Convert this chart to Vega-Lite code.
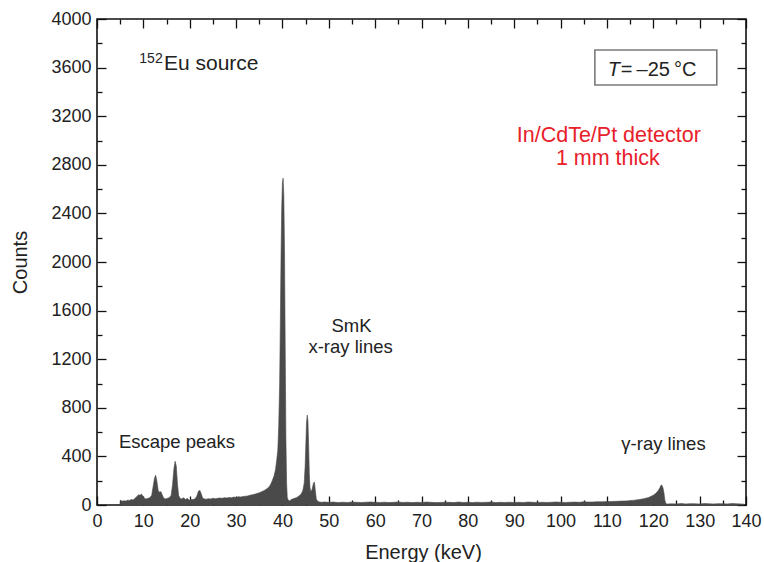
{
  "$schema": "https://vega.github.io/schema/vega-lite/v6.json",
  "width": 649,
  "height": 486,
  "autosize": "none",
  "padding": {"left": 97, "top": 19, "right": 18, "bottom": 57},
  "background": "white",
  "config": {
    "view": {"stroke": "#111", "strokeWidth": 1.6},
    "axis": {
      "domain": false, "grid": false, "tickColor": "#111", "tickWidth": 1.3,
      "labelFont": "Liberation Sans", "labelFontSize": 18, "labelColor": "#222",
      "labelFlush": false, "labelOverlap": false, "format": "d",
      "titleFont": "Liberation Sans", "titleFontSize": 20, "titleFontWeight": "normal", "titleColor": "#222"
    },
    "text": {"font": "Liberation Sans", "color": "#222"}
  },
  "datasets": {
    "spec": [
      {"e": 5.0, "c": 0}, {"e": 5.1, "c": 40}, {"e": 5.4, "c": 30}, {"e": 5.8, "c": 35}, {"e": 6.2, "c": 32},
      {"e": 6.6, "c": 40}, {"e": 7.0, "c": 38}, {"e": 7.4, "c": 45}, {"e": 7.8, "c": 42}, {"e": 8.2, "c": 55},
      {"e": 8.6, "c": 70}, {"e": 9.0, "c": 85}, {"e": 9.3, "c": 80}, {"e": 9.6, "c": 90}, {"e": 9.9, "c": 75},
      {"e": 10.2, "c": 55}, {"e": 10.6, "c": 50}, {"e": 11.0, "c": 55}, {"e": 11.4, "c": 60}, {"e": 11.8, "c": 80},
      {"e": 12.1, "c": 150}, {"e": 12.4, "c": 220}, {"e": 12.65, "c": 245}, {"e": 12.9, "c": 200}, {"e": 13.2, "c": 120},
      {"e": 13.5, "c": 105}, {"e": 13.8, "c": 110}, {"e": 14.1, "c": 80}, {"e": 14.4, "c": 55}, {"e": 14.8, "c": 50},
      {"e": 15.2, "c": 55}, {"e": 15.6, "c": 60}, {"e": 16.0, "c": 80}, {"e": 16.3, "c": 170}, {"e": 16.6, "c": 300},
      {"e": 16.85, "c": 360}, {"e": 17.1, "c": 320}, {"e": 17.35, "c": 180}, {"e": 17.6, "c": 80}, {"e": 17.9, "c": 55},
      {"e": 18.3, "c": 50}, {"e": 18.7, "c": 60}, {"e": 19.1, "c": 45}, {"e": 19.5, "c": 55}, {"e": 19.9, "c": 40},
      {"e": 20.3, "c": 45}, {"e": 20.7, "c": 45}, {"e": 21.1, "c": 50}, {"e": 21.5, "c": 70}, {"e": 21.9, "c": 115},
      {"e": 22.2, "c": 120}, {"e": 22.5, "c": 90}, {"e": 22.8, "c": 55}, {"e": 23.2, "c": 50}, {"e": 23.6, "c": 48},
      {"e": 24.0, "c": 52}, {"e": 24.5, "c": 50}, {"e": 25.0, "c": 55}, {"e": 25.5, "c": 52}, {"e": 26.0, "c": 55},
      {"e": 26.5, "c": 58}, {"e": 27.0, "c": 55}, {"e": 27.5, "c": 60}, {"e": 28.0, "c": 58}, {"e": 28.5, "c": 62},
      {"e": 29.0, "c": 60}, {"e": 29.5, "c": 65}, {"e": 30.0, "c": 62}, {"e": 30.5, "c": 68}, {"e": 31.0, "c": 66},
      {"e": 31.5, "c": 70}, {"e": 32.0, "c": 72}, {"e": 32.5, "c": 75}, {"e": 33.0, "c": 80}, {"e": 33.5, "c": 85},
      {"e": 34.0, "c": 88}, {"e": 34.5, "c": 95}, {"e": 35.0, "c": 100}, {"e": 35.5, "c": 110}, {"e": 36.0, "c": 118},
      {"e": 36.5, "c": 130}, {"e": 37.0, "c": 145}, {"e": 37.4, "c": 165}, {"e": 37.8, "c": 200}, {"e": 38.2, "c": 240},
      {"e": 38.5, "c": 290}, {"e": 38.8, "c": 380}, {"e": 39.0, "c": 450}, {"e": 39.2, "c": 650}, {"e": 39.4, "c": 1000},
      {"e": 39.55, "c": 1500}, {"e": 39.7, "c": 2050}, {"e": 39.85, "c": 2450}, {"e": 40.0, "c": 2650}, {"e": 40.15, "c": 2690},
      {"e": 40.3, "c": 2550}, {"e": 40.45, "c": 2100}, {"e": 40.6, "c": 1300}, {"e": 40.75, "c": 550}, {"e": 40.9, "c": 180},
      {"e": 41.05, "c": 60}, {"e": 41.3, "c": 38}, {"e": 41.6, "c": 35}, {"e": 41.9, "c": 45}, {"e": 42.2, "c": 50},
      {"e": 42.6, "c": 55}, {"e": 43.0, "c": 60}, {"e": 43.4, "c": 70}, {"e": 43.8, "c": 80}, {"e": 44.1, "c": 95},
      {"e": 44.4, "c": 120}, {"e": 44.7, "c": 180}, {"e": 44.9, "c": 320}, {"e": 45.05, "c": 500}, {"e": 45.2, "c": 680},
      {"e": 45.35, "c": 740}, {"e": 45.5, "c": 690}, {"e": 45.65, "c": 500}, {"e": 45.8, "c": 260}, {"e": 45.95, "c": 140},
      {"e": 46.15, "c": 110}, {"e": 46.4, "c": 130}, {"e": 46.7, "c": 180}, {"e": 46.9, "c": 190}, {"e": 47.1, "c": 120},
      {"e": 47.3, "c": 50}, {"e": 47.6, "c": 30}, {"e": 48.0, "c": 25}, {"e": 48.5, "c": 22}, {"e": 49.0, "c": 25},
      {"e": 50, "c": 22},
      {"e": 51, "c": 24}, {"e": 52, "c": 20}, {"e": 53, "c": 23}, {"e": 54, "c": 21}, {"e": 55, "c": 24},
      {"e": 56, "c": 22}, {"e": 57, "c": 20}, {"e": 58, "c": 23}, {"e": 59, "c": 25}, {"e": 60, "c": 22},
      {"e": 61, "c": 21}, {"e": 62, "c": 23}, {"e": 63, "c": 20}, {"e": 64, "c": 22}, {"e": 65, "c": 24},
      {"e": 66, "c": 21}, {"e": 67, "c": 23}, {"e": 68, "c": 20}, {"e": 69, "c": 22}, {"e": 70, "c": 21},
      {"e": 71, "c": 24}, {"e": 72, "c": 22}, {"e": 73, "c": 20}, {"e": 74, "c": 21}, {"e": 75, "c": 23},
      {"e": 76, "c": 22}, {"e": 77, "c": 20}, {"e": 78, "c": 24}, {"e": 79, "c": 21}, {"e": 80, "c": 22},
      {"e": 81, "c": 20}, {"e": 82, "c": 23}, {"e": 83, "c": 21}, {"e": 84, "c": 22}, {"e": 85, "c": 24},
      {"e": 86, "c": 20}, {"e": 87, "c": 22}, {"e": 88, "c": 21}, {"e": 89, "c": 23}, {"e": 90, "c": 20},
      {"e": 91, "c": 22}, {"e": 92, "c": 21}, {"e": 93, "c": 24}, {"e": 94, "c": 22}, {"e": 95, "c": 20},
      {"e": 96, "c": 23}, {"e": 97, "c": 21}, {"e": 98, "c": 22}, {"e": 99, "c": 25}, {"e": 100, "c": 22},
      {"e": 101, "c": 21}, {"e": 102, "c": 23}, {"e": 103, "c": 24}, {"e": 104, "c": 22}, {"e": 105, "c": 26},
      {"e": 106, "c": 24}, {"e": 107, "c": 25}, {"e": 108, "c": 27}, {"e": 109, "c": 26}, {"e": 110, "c": 28},
      {"e": 111, "c": 29}, {"e": 112, "c": 30}, {"e": 113, "c": 32}, {"e": 114, "c": 33}, {"e": 115, "c": 36},
      {"e": 116, "c": 40}, {"e": 117, "c": 45}, {"e": 118, "c": 52}, {"e": 119, "c": 62}, {"e": 120, "c": 80},
      {"e": 120.5, "c": 95}, {"e": 121.0, "c": 115}, {"e": 121.4, "c": 140}, {"e": 121.7, "c": 165}, {"e": 121.9, "c": 160},
      {"e": 122.1, "c": 140}, {"e": 122.3, "c": 100}, {"e": 122.5, "c": 40}, {"e": 122.7, "c": 12}, {"e": 123, "c": 8},
      {"e": 124, "c": 10}, {"e": 125, "c": 8}, {"e": 126, "c": 12}, {"e": 127, "c": 9}, {"e": 128, "c": 11},
      {"e": 129, "c": 10}, {"e": 130, "c": 8}, {"e": 131, "c": 12}, {"e": 132, "c": 10}, {"e": 133, "c": 9},
      {"e": 134, "c": 11}, {"e": 135, "c": 10}, {"e": 136, "c": 9}, {"e": 137, "c": 12}, {"e": 138, "c": 10},
      {"e": 139, "c": 8}, {"e": 139.5, "c": 8}, {"e": 139.6, "c": 0}
    ],
    "notes": [
      {"e": 17.26, "c": 467, "t": "Escape peaks"},
      {"e": 54.9, "c": 1426, "t": "SmK"},
      {"e": 54.7, "c": 1248, "t": "x-ray lines"},
      {"e": 122.2, "c": 453, "t": "γ-ray lines"}
    ],
    "red": [
      {"e": 110.4, "c": 2990, "t": "In/CdTe/Pt detector"},
      {"e": 110.2, "c": 2798, "t": "1 mm thick"}
    ],
    "sup": [{"e": 9.13, "c": 3640, "t": "152"}],
    "src": [{"e": 14.45, "c": 3580, "t": "Eu source"}],
    "tT": [{"e": 110.2, "c": 3531, "t": "T"}],
    "tval": [{"e": 113.0, "c": 3531, "t": "=\u2009\u201325\u2009\u00b0C"}],
    "box": [{"e1": 107.4, "e2": 133.7, "c1": 3457, "c2": 3745}]
  },
  "resolve": {"axis": {"x": "independent", "y": "independent"}},
  "layer": [
    {
      "data": {"name": "spec"},
      "mark": {"type": "area", "color": "#4a4a4a", "stroke": "#4a4a4a", "strokeWidth": 0.6, "interpolate": "linear"},
      "encoding": {
        "x": {"field": "e", "type": "quantitative", "scale": {"domain": [0, 140], "nice": false, "zero": false},
          "axis": {"orient": "bottom", "values": [0,10,20,30,40,50,60,70,80,90,100,110,120,130,140], "tickSize": -9, "labelPadding": 16, "title": "Energy (keV)", "titleX": 326, "titleY": 47, "titleAnchor": null, "titleAlign": "center", "titleBaseline": "middle"}},
        "y": {"field": "c", "type": "quantitative", "scale": {"domain": [0, 4000], "nice": false},
          "axis": {"orient": "left", "values": [0,400,800,1200,1600,2000,2400,2800,3200,3600,4000], "tickSize": -9, "labelPadding": 15, "title": "Counts", "titleX": -77, "titleY": 243, "titleAnchor": null, "titleAngle": -90, "titleAlign": "center", "titleBaseline": "middle"}}
      }
    },
    {
      "data": {"name": "spec"},
      "mark": {"type": "area", "opacity": 0},
      "encoding": {
        "x": {"field": "e", "type": "quantitative", "axis": {"orient": "bottom", "values": [5,15,25,35,45,55,65,75,85,95,105,115,125,135], "tickSize": -5, "labels": false, "title": null}},
        "y": {"field": "c", "type": "quantitative", "axis": {"orient": "left", "values": [200,600,1000,1400,1800,2200,2600,3000,3400,3800], "tickSize": -5, "labels": false, "title": null}}
      }
    },
    {
      "data": {"name": "spec"},
      "mark": {"type": "area", "opacity": 0},
      "encoding": {
        "x": {"field": "e", "type": "quantitative", "axis": {"orient": "top", "values": [0,10,20,30,40,50,60,70,80,90,100,110,120,130,140], "tickSize": -9, "labels": false, "title": null}},
        "y": {"field": "c", "type": "quantitative", "axis": {"orient": "right", "values": [0,400,800,1200,1600,2000,2400,2800,3200,3600,4000], "tickSize": -9, "labels": false, "title": null}}
      }
    },
    {
      "data": {"name": "spec"},
      "mark": {"type": "area", "opacity": 0},
      "encoding": {
        "x": {"field": "e", "type": "quantitative", "axis": {"orient": "top", "values": [5,15,25,35,45,55,65,75,85,95,105,115,125,135], "tickSize": -5, "labels": false, "title": null}},
        "y": {"field": "c", "type": "quantitative", "axis": {"orient": "right", "values": [200,600,1000,1400,1800,2200,2600,3000,3400,3800], "tickSize": -5, "labels": false, "title": null}}
      }
    },
    {
      "data": {"name": "notes"},
      "mark": {"type": "text", "fontSize": 18.5, "align": "center", "baseline": "alphabetic"},
      "encoding": {
        "x": {"field": "e", "type": "quantitative", "axis": null},
        "y": {"field": "c", "type": "quantitative", "axis": null},
        "text": {"field": "t"}
      }
    },
    {
      "data": {"name": "red"},
      "mark": {"type": "text", "fontSize": 21.5, "align": "center", "baseline": "alphabetic", "color": "#e8212b"},
      "encoding": {
        "x": {"field": "e", "type": "quantitative", "axis": null},
        "y": {"field": "c", "type": "quantitative", "axis": null},
        "text": {"field": "t"}
      }
    },
    {
      "data": {"name": "sup"},
      "mark": {"type": "text", "fontSize": 14, "align": "left", "baseline": "alphabetic"},
      "encoding": {
        "x": {"field": "e", "type": "quantitative", "axis": null},
        "y": {"field": "c", "type": "quantitative", "axis": null},
        "text": {"field": "t"}
      }
    },
    {
      "data": {"name": "src"},
      "mark": {"type": "text", "fontSize": 21, "align": "left", "baseline": "alphabetic"},
      "encoding": {
        "x": {"field": "e", "type": "quantitative", "axis": null},
        "y": {"field": "c", "type": "quantitative", "axis": null},
        "text": {"field": "t"}
      }
    },
    {
      "data": {"name": "box"},
      "mark": {"type": "rect", "fill": null, "fillOpacity": 0, "stroke": "#7a7a7a", "strokeWidth": 1.6},
      "encoding": {
        "x": {"field": "e1", "type": "quantitative", "axis": null},
        "x2": {"field": "e2"},
        "y": {"field": "c1", "type": "quantitative", "axis": null},
        "y2": {"field": "c2"}
      }
    },
    {
      "data": {"name": "tT"},
      "mark": {"type": "text", "fontSize": 20, "fontStyle": "italic", "align": "left", "baseline": "alphabetic"},
      "encoding": {
        "x": {"field": "e", "type": "quantitative", "axis": null},
        "y": {"field": "c", "type": "quantitative", "axis": null},
        "text": {"field": "t"}
      }
    },
    {
      "data": {"name": "tval"},
      "mark": {"type": "text", "fontSize": 20, "align": "left", "baseline": "alphabetic"},
      "encoding": {
        "x": {"field": "e", "type": "quantitative", "axis": null},
        "y": {"field": "c", "type": "quantitative", "axis": null},
        "text": {"field": "t"}
      }
    }
  ]
}
